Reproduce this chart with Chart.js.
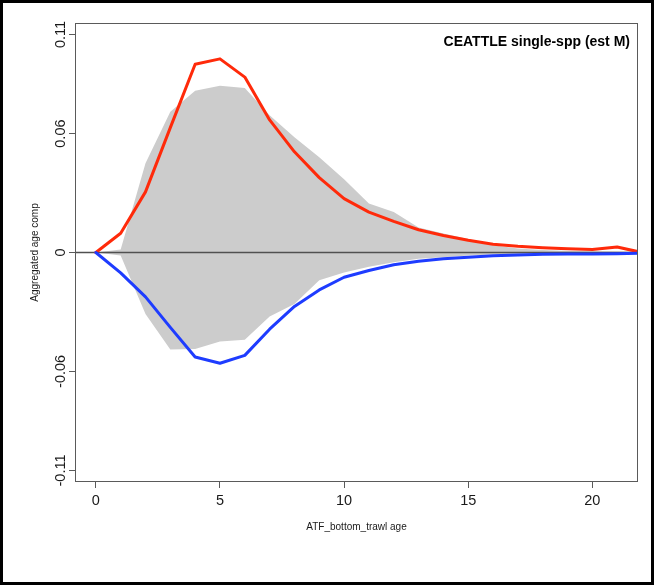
<!DOCTYPE html>
<html>
<head>
<meta charset="utf-8">
<script src="https://cdn.jsdelivr.net/npm/chart.js@4.4.1/dist/chart.umd.min.js"></script>
<style>
  html, body { margin: 0; padding: 0; background: #fff; }
  #wrap { width: 654px; height: 585px; position: relative; }
  canvas { display: block; }
</style>
</head>
<body>
<div id="wrap"><canvas id="c" width="654" height="585"></canvas></div>
<script>
// ---- data ----
const ages = [0,1,2,3,4,5,6,7,8,9,10,11,12,13,14,15,16,17,18,19,20,21,22];
// observed aggregated age comp interval (grey band)
const obsUpper = [0, 0.0015, 0.045, 0.071, 0.0816, 0.0841, 0.083, 0.0692, 0.0582, 0.048, 0.037, 0.0247, 0.0204, 0.0126, 0.0096, 0.0068, 0.0037, 0.002, 0.0012, 0.0008, 0.0006, 0.0005, 0.0003];
const obsLower = [0, -0.0015, -0.031, -0.049, -0.0487, -0.0449, -0.044, -0.0323, -0.026, -0.014, -0.0101, -0.0072, -0.0049, -0.0032, -0.0024, -0.0015, -0.001, -0.0007, -0.0005, -0.0003, -0.0002, -0.0002, -0.0001];
// model expected (red, positive side) and (blue, negative side)
const redSeries = [0, 0.0097, 0.0306, 0.063, 0.0950, 0.0977, 0.0885, 0.0669, 0.0508, 0.0378, 0.0272, 0.0204, 0.0157, 0.0115, 0.0086, 0.0062, 0.0042, 0.0031, 0.0024, 0.0019, 0.0015, 0.0028, 0.0];
const blueSeries = [0, -0.0103, -0.0224, -0.0378, -0.0527, -0.0559, -0.0519, -0.0387, -0.0272, -0.0189, -0.0125, -0.0091, -0.0062, -0.0044, -0.0032, -0.0024, -0.0017, -0.0012, -0.0009, -0.0008, -0.0007, -0.0006, -0.0004];
const xTicks = [0, 5, 10, 15, 20];
const yTicks = [-0.11, -0.06, 0, 0.06, 0.11];
const yTickLabels = ['-0.11', '-0.06', '0', '0.06', '0.11'];
const X_MIN = -0.84, X_MAX = 21.84;
const Y_MIN = -0.1158, Y_MAX = 0.1158;
const titleText = 'CEATTLE single-spp (est M)';
const xTitle = 'ATF_bottom_trawl age';
const yTitle = 'Aggregated age comp';

const pts = arr => ages.map((a, i) => ({ x: a, y: arr[i] }));
const FONT = '"Liberation Sans", Arial, Helvetica, sans-serif';
const AXIS_COL = '#5a5a5a';

const framePlugin = {
  id: 'frame',
  beforeDraw(chart) {
    const ctx = chart.ctx;
    ctx.save();
    ctx.fillStyle = '#ffffff';
    ctx.fillRect(0, 0, chart.width, chart.height);
    ctx.restore();
  },
  afterDraw(chart) {
    const ctx = chart.ctx;
    const a = chart.chartArea;
    ctx.save();
    // plot box
    ctx.strokeStyle = AXIS_COL;
    ctx.lineWidth = 1;
    ctx.strokeRect(Math.round(a.left) + 0.5, Math.round(a.top) + 0.5, Math.round(a.right - a.left) - 1, Math.round(a.bottom - a.top) - 1);
    // title inside plot, top-right
    ctx.fillStyle = '#000';
    ctx.font = 'bold 14px ' + FONT;
    ctx.textAlign = 'right';
    ctx.textBaseline = 'middle';
    ctx.fillText(titleText, a.right - 8, a.top + 19);
    // outer black frame
    ctx.strokeStyle = '#000';
    ctx.lineWidth = 3;
    ctx.strokeRect(1.5, 1.5, chart.width - 3, chart.height - 3);
    ctx.restore();
  }
};

new Chart(document.getElementById('c'), {
  type: 'line',
  data: {
    datasets: [
      { label: 'lower', data: pts(obsLower), borderWidth: 0, pointRadius: 0, fill: false, order: 6, borderColor: 'rgba(0,0,0,0)', clip: 0 },
      { label: 'upper', data: pts(obsUpper), borderWidth: 0, pointRadius: 0, fill: '-1', backgroundColor: '#cccccc', borderColor: 'rgba(0,0,0,0)', order: 5, clip: 0 },
      { label: 'zero', data: [{ x: X_MIN, y: 0 }, { x: X_MAX, y: 0 }], borderColor: '#505050', borderWidth: 1.3, pointRadius: 0, fill: false, order: 3, clip: 0 },
      { label: 'red', data: pts(redSeries), borderColor: '#ff2a0a', borderWidth: 3, pointRadius: 0, fill: false, order: 2, clip: 0, borderJoinStyle: 'round', borderCapStyle: 'round' },
      { label: 'blue', data: pts(blueSeries), borderColor: '#1e3cff', borderWidth: 3, pointRadius: 0, fill: false, order: 1, clip: 0, borderJoinStyle: 'round', borderCapStyle: 'round' }
    ]
  },
  options: {
    responsive: false,
    animation: false,
    events: [],
    layout: { padding: { left: 0, right: 16, top: 23, bottom: 0 } },
    plugins: { legend: { display: false }, tooltip: { enabled: false } },
    elements: { line: { tension: 0 } },
    scales: {
      x: {
        type: 'linear', min: X_MIN, max: X_MAX,
        afterBuildTicks: s => { s.ticks = xTicks.map(v => ({ value: v })); },
        afterFit: s => { s.height = 103; },
        grid: { drawOnChartArea: false, drawTicks: true, tickLength: 6, color: AXIS_COL, lineWidth: 1 },
        border: { display: false },
        ticks: { color: '#1a1a1a', font: { family: FONT, size: 14.5 }, padding: 4, maxRotation: 0, minRotation: 0, callback: v => String(v) },
        title: { display: true, text: xTitle, color: '#1a1a1a', font: { family: FONT, size: 10 }, padding: { top: 0, bottom: 52 } }
      },
      y: {
        type: 'linear', min: Y_MIN, max: Y_MAX,
        afterBuildTicks: s => { s.ticks = yTicks.map(v => ({ value: v })); },
        afterFit: s => { s.width = 75; },
        grid: { drawOnChartArea: false, drawTicks: true, tickLength: 6, color: AXIS_COL, lineWidth: 1 },
        border: { display: false },
        ticks: {
          color: '#1a1a1a', font: { family: FONT, size: 14.5 }, padding: -9, minRotation: 90, maxRotation: 90, crossAlign: 'center',
          callback: v => { const i = yTicks.indexOf(v); return i >= 0 ? yTickLabels[i] : ''; }
        },
        title: { display: true, text: yTitle, color: '#1a1a1a', font: { family: FONT, size: 10 }, padding: { top: 29, bottom: 0 } }
      }
    }
  },
  plugins: [framePlugin]
});
</script>
</body>
</html>
